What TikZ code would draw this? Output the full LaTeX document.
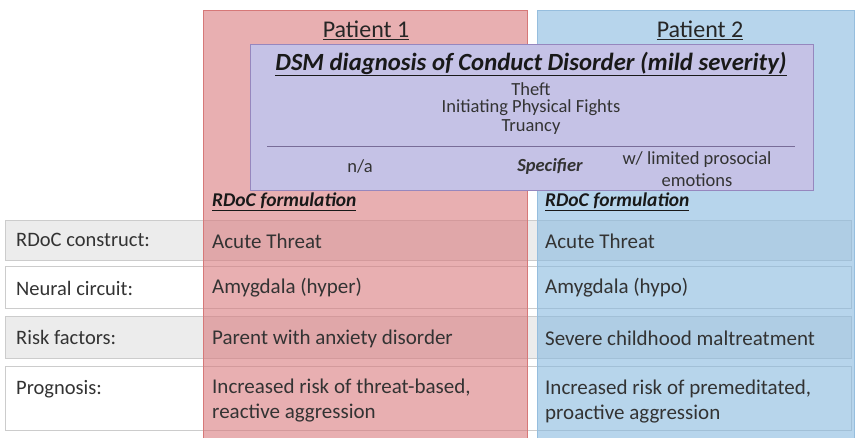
\documentclass[tikz,border=0pt]{standalone}
\usepackage{fontspec}
\setmainfont{Carlito}
\begin{document}
\begin{tikzpicture}[x=1pt,y=-1pt,
  rowbox/.style={draw=black!20,line width=0.8pt},
  lbl/.style={anchor=west,inner sep=0pt,font=\fontsize{20.5}{24}\selectfont,text=black!80},
  cell/.style={anchor=west,inner sep=0pt,font=\fontsize{21}{25}\selectfont,text=black!80},
  small/.style={inner sep=0pt,font=\fontsize{18.5}{22}\selectfont,text=black!80},
  form/.style={anchor=west,inner sep=0pt,font=\bfseries\itshape\fontsize{19.5}{23}\selectfont,text=black!90},
]
\definecolor{redc}{RGB}{217,122,125}
\definecolor{redb}{RGB}{214,120,120}
\definecolor{bluec}{RGB}{135,185,223}
\definecolor{blueb}{RGB}{150,190,222}
\definecolor{purf}{RGB}{197,194,230}
\definecolor{purb}{RGB}{150,135,190}
\definecolor{rowg}{RGB}{236,236,236}
\useasboundingbox (0,0) rectangle (855,438);
% rows
\draw[rowbox,fill=rowg] (5,220) rectangle (851,260);
\draw[rowbox,fill=white] (5,266) rectangle (851,308);
\draw[rowbox,fill=rowg] (5,316) rectangle (851,358);
\draw[rowbox,fill=white] (5,366) rectangle (851,430);
% columns
\fill[redc,opacity=0.6] (203,10) rectangle (527,440);
\draw[redb,line width=0.8pt] (203,440) -- (203,10) -- (527,10) -- (527,440);
\fill[bluec,opacity=0.6] (537,10) rectangle (854,440);
\draw[blueb,line width=0.8pt] (537,440) -- (537,10) -- (854,10) -- (854,440);
% headers
\node[inner sep=0pt,font=\fontsize{24}{28}\selectfont,text=black!85] (p1) at (366,30) {\underline{Patient 1}};
\node[inner sep=0pt,font=\fontsize{24}{28}\selectfont,text=black!85] (p2) at (700,30) {\underline{Patient 2}};
% DSM box
\node[draw=purb,fill=purf,line width=0.8pt,minimum width=563pt,minimum height=146pt,inner sep=0pt] (dsm) at (531.5,117) {};
\node[inner sep=0pt,font=\bfseries\itshape\fontsize{24.7}{29}\selectfont,text=black!90] (title) at (531,64) {\underline{DSM diagnosis of Conduct Disorder (mild severity)}};
\node[small] (t1) at (531,89) {Theft};
\node[small] (t2) at (531,108) {Initiating Physical Fights};
\node[small] (t3) at (531,127) {Truancy};
\coordinate (la) at (267,146);
\coordinate (lb) at (795,146);
\draw[purb!80!black,line width=0.8pt] (la) -- (lb);
\node[small] (na) at (360,166) {n/a};
\node[small,font=\bfseries\itshape\fontsize{18.5}{22}\selectfont] (spec) at (550,166) {Specifier};
\node[small,align=center,font=\fontsize{18.5}{22}\selectfont] (wl) at (697,169) {w/ limited prosocial\\emotions};
% RDoC formulation
\node[form] (f1) at (212,202) {\underline{RDoC formulation}};
\node[form] (f2) at (545,202) {\underline{RDoC formulation}};
% row labels
\node[lbl] (r1) at (16,240) {RDoC construct:};
\node[lbl] (r2) at (16,288) {Neural circuit:};
\node[lbl] (r3) at (16,337) {Risk factors:};
\node[lbl] (r4) at (16,389) {Prognosis:};
% patient 1
\node[cell] (a1) at (212,241) {Acute Threat};
\node[cell] (a2) at (212,288) {Amygdala (hyper)};
\node[cell] (a3) at (212,339) {Parent with anxiety disorder};
\node[cell,align=left,anchor=north west,font=\fontsize{21}{25}\selectfont] (a4) at (212,379) {Increased risk of threat-based,\\reactive aggression};
% patient 2
\node[cell] (b1) at (545,241) {Acute Threat};
\node[cell] (b2) at (545,288) {Amygdala (hypo)};
\node[cell] (b3) at (545,338) {Severe childhood maltreatment};
\node[cell,align=left,anchor=north west,font=\fontsize{21}{25}\selectfont] (b4) at (545,380) {Increased risk of premeditated,\\proactive aggression};
\end{tikzpicture}
\end{document}
